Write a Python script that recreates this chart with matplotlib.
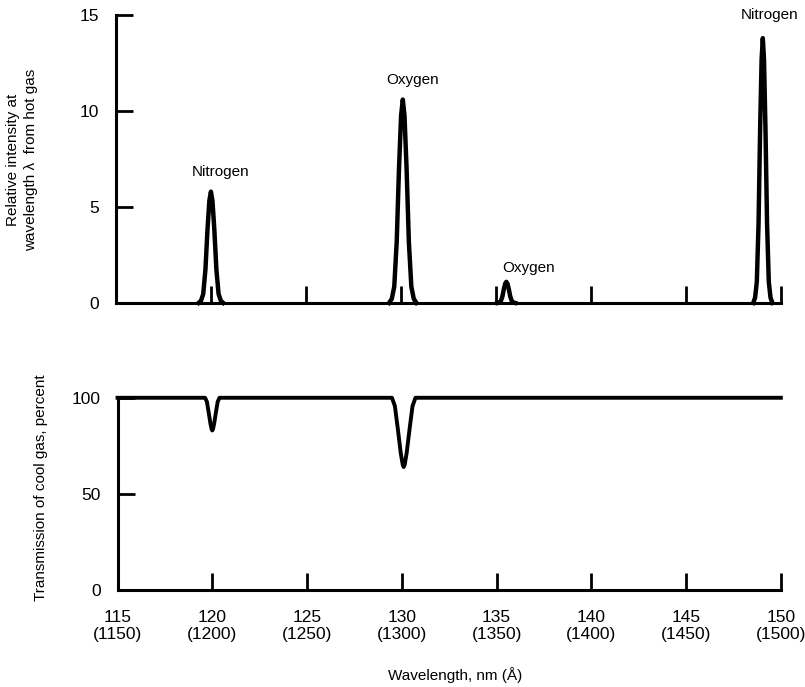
import matplotlib.pyplot as plt
import numpy as np

plt.rcParams['font.family'] = ['Liberation Sans', 'DejaVu Sans']

# emission lines from hot gas (top panel)
line_names = ["Nitrogen", "Oxygen", "Oxygen", "Nitrogen"]
line_centers = [120.0, 130.1, 135.55, 149.05]    # nm
line_heights = [5.8, 10.6, 1.1, 13.8]             # relative intensity
line_widths = [0.9, 1.0, 0.65, 0.7]               # relative width of each line
label_pos = [(120.5, 6.8), (130.6, 11.6), (136.7, 1.8), (149.4, 15.0)]

# shape of one emission line
shape_dx = [-0.72, -0.58, -0.45, -0.32, -0.2, -0.09, 0.0, 0.09, 0.2, 0.32, 0.45, 0.58, 0.72]
shape_rel = [0.0, 0.02, 0.08, 0.3, 0.66, 0.92, 1.0, 0.92, 0.66, 0.3, 0.08, 0.02, 0.0]

# absorption by cool gas (bottom panel)
dip_centers = [120.0, 130.1]
dip_depths = [17, 36]        # percent below 100
dip_halfwidth = [0.38, 0.62]
dip_dx = [-1.0, -0.75, -0.5, -0.25, -0.08, 0.0, 0.08, 0.25, 0.5, 0.75, 1.0]
dip_rel = [0.0, 0.12, 0.45, 0.8, 0.97, 1.0, 0.97, 0.8, 0.45, 0.12, 0.0]

wl_min, wl_max = 115, 150
ticks_nm = [115, 120, 125, 130, 135, 140, 145, 150]
tick_labels = [f"{t}\n({t * 10})" for t in ticks_nm]

fig = plt.figure(figsize=(8.05, 6.87), dpi=100)
ax1 = fig.add_axes([0.144, 0.559, 0.826, 0.419])
ax2 = fig.add_axes([0.146, 0.141, 0.824, 0.28])

# top: emission spectrum
for c, h, w in zip(line_centers, line_heights, line_widths):
    x = c + np.array(shape_dx) * w
    y = h * np.array(shape_rel)
    ax1.plot(x, y, color="black", lw=3.2, solid_joinstyle="round", clip_on=False)
for name, (lx, ly) in zip(line_names, label_pos):
    ax1.text(lx, ly, name, ha="center", va="center", fontsize=11)

ax1.set_xlim(wl_min, wl_max)
ax1.set_ylim(0, 15)
ax1.set_yticks([0, 5, 10, 15])
ax1.set_xticks(ticks_nm)
ax1.set_xticklabels([])
for s in ["top", "right"]:
    ax1.spines[s].set_visible(False)
for s in ["left", "bottom"]:
    ax1.spines[s].set_linewidth(2.2)
ax1.tick_params(direction="in", length=12, width=2.0, labelsize=12.5, pad=12)

# bottom: transmission of cool gas
tx = [wl_min]
ty = [100]
for c, d, hw in zip(dip_centers, dip_depths, dip_halfwidth):
    tx += list(c + np.array(dip_dx) * hw)
    ty += list(100 - d * np.array(dip_rel))
tx.append(wl_max)
ty.append(100)
ax2.plot(tx, ty, color="black", lw=2.8, clip_on=False)

ax2.set_xlim(wl_min, wl_max)
ax2.set_ylim(0, 100)
ax2.set_yticks([0, 50, 100])
ax2.set_xticks(ticks_nm)
ax2.set_xticklabels(tick_labels)
for s in ["top", "right"]:
    ax2.spines[s].set_visible(False)
for s in ["left", "bottom"]:
    ax2.spines[s].set_linewidth(2.2)
ax2.tick_params(direction="in", length=12, width=2.0, labelsize=12.5, pad=12)
ax2.tick_params(axis="x", pad=14)

fig.text(0.027, 0.767, "Relative intensity at\nwavelength \u03bb  from hot gas",
         rotation=90, ha="center", va="center", fontsize=11, linespacing=1.35)
fig.text(0.051, 0.29, "Transmission of cool gas, percent",
         rotation=90, ha="center", va="center", fontsize=11)
fig.text(0.565, 0.018, "Wavelength, nm (\u00c5)", ha="center", va="center", fontsize=11)

fig.savefig("out.png", dpi=100)
